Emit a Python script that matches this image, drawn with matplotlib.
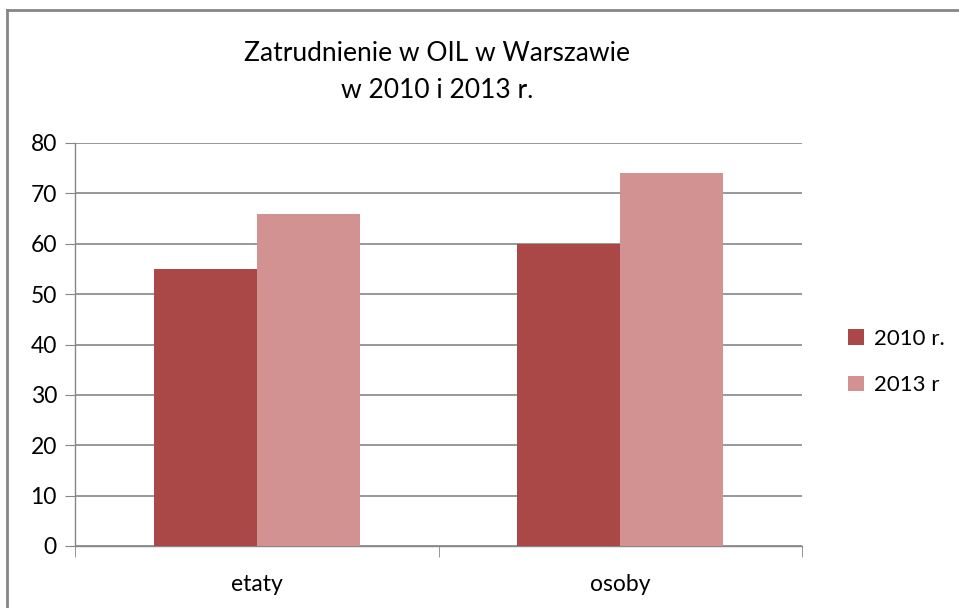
"""Zatrudnienie w OIL w Warszawie - grouped bar chart."""
import matplotlib
matplotlib.use("Agg")
import matplotlib.pyplot as plt
from matplotlib.lines import Line2D
import numpy as np

categories = ["etaty", "osoby"]
series_names = ["2010 r.", "2013 r"]
values_2010 = [55, 60]
values_2013 = [66, 74]
y_ticks = [0, 10, 20, 30, 40, 50, 60, 70, 80]
title = "Zatrudnienie w OIL w Warszawie\nw 2010 i 2013 r."

colors = ["#A94846", "#D29291"]
grid_color = "#868686"

plt.rcParams["font.family"] = ["Lato", "DejaVu Sans"]

fig = plt.figure(figsize=(9.59, 6.08), dpi=100)
ax = fig.add_axes([75 / 959, 1 - 546 / 608, (802 - 75) / 959, (546 - 143) / 608])

x = np.arange(len(categories))
width = 0.284
ax.bar(x - width / 2, values_2010, width, color=colors[0], label=series_names[0], zorder=3)
ax.bar(x + width / 2, values_2013, width, color=colors[1], label=series_names[1], zorder=3)

ax.set_xlim(-0.5, len(categories) - 0.5)
ax.set_ylim(0, 80)
ax.set_yticks(y_ticks)
ax.set_xticks(x)
ax.set_xticklabels(categories)
ax.set_xticks(np.arange(-0.5, len(categories)), minor=True)
ax.yaxis.grid(True, color=grid_color, linewidth=1.2, zorder=0)
ax.set_axisbelow(True)

for side in ["top", "right"]:
    ax.spines[side].set_visible(False)
for side in ["left", "bottom"]:
    ax.spines[side].set_color(grid_color)
    ax.spines[side].set_linewidth(1.0)

ax.tick_params(axis="y", direction="out", length=7, color=grid_color, labelsize=16.5, pad=6)
ax.tick_params(axis="x", which="major", length=0, labelsize=16.5, pad=20)
ax.tick_params(axis="x", which="minor", direction="out", length=8, color=grid_color)

fig.text(437 / 959, 1 - 72 / 608, title, ha="center", va="center",
         fontsize=19, linespacing=1.6)

ax.legend(loc="center left", bbox_to_anchor=(828 / 959, 1 - 362 / 608),
          bbox_transform=fig.transFigure, frameon=False, fontsize=16,
          handlelength=0.7, handleheight=0.7, handletextpad=0.45, labelspacing=1.2)

# chart frame: only the top and left edges fall inside the picture
fig.add_artist(Line2D([7 / 959, 1], [1 - 10 / 608, 1 - 10 / 608], transform=fig.transFigure,
                      color=grid_color, linewidth=2))
fig.add_artist(Line2D([7 / 959, 7 / 959], [0, 1 - 10 / 608], transform=fig.transFigure,
                      color=grid_color, linewidth=2))

fig.savefig("out.png", dpi=100)
